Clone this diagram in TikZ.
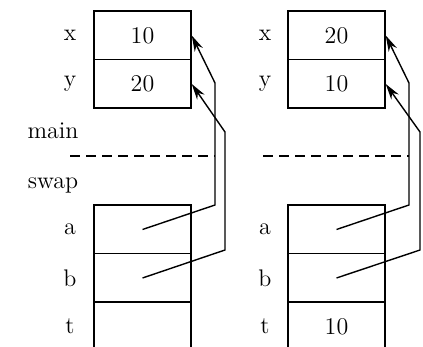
\documentclass[tikz,border=0pt]{standalone}
\usetikzlibrary{arrows.meta}
\tikzset{
  cell/.style={draw,line width=0.75pt,rectangle,minimum width=48.5pt,minimum height=24.25pt,inner sep=0pt,font=\fontsize{12}{14}\selectfont},
  lbl/.style={inner sep=0pt,font=\fontsize{12}{14}\selectfont},
  ptr/.style={line width=0.7pt,-{Stealth[length=8pt,width=4.5pt]}},
  sep/.style={line width=0.7pt,dash pattern=on 5pt off 3pt}
}
\begin{document}
\begin{tikzpicture}[x=0.5pt,y=-0.5pt]
					\useasboundingbox (0,0) rectangle (423,347);
					% before the call
					\node[cell] (lx) at (142.5,35.5) {10};
					\node[cell] (ly) at (142.5,84)   {20};
					\node[cell] (la) at (142.5,229.5) {};
					\node[cell] (lb) at (142.5,278)  {};
					\node[cell] (lt) at (142.5,326.5) {};
					\node[lbl] (lxl) at (70,35.5)  {x};
					\node[lbl] (lyl) at (70,84)    {y};
					\node[lbl] (lal) at (70,229.5) {a};
					\node[lbl] (lbl) at (70,278)   {b};
					\node[lbl] (ltl) at (70,326.5) {t};
					\node[lbl] (main) at (53,131) {main};
					\node[lbl] (swap) at (53,185) {swap};
					%
					% after the call
					\node[cell] (rx) at (336.5,35.5) {20};
					\node[cell] (ry) at (336.5,84)   {10};
					\node[cell] (ra) at (336.5,229.5) {};
					\node[cell] (rb) at (336.5,278)  {};
					\node[cell] (rt) at (336.5,326.5) {10};
					\node[lbl] (rxl) at (265,35.5)  {x};
					\node[lbl] (ryl) at (265,84)    {y};
					\node[lbl] (ral) at (265,229.5) {a};
					\node[lbl] (rbl) at (265,278)   {b};
					\node[lbl] (rtl) at (265,326.5) {t};
					%
					% frame boundary
					\coordinate (ls0) at (70,156);
					\coordinate (ls1) at (215,156);
					\coordinate (rs0) at (263,156);
					\coordinate (rs1) at (409,156);
					\draw[sep] (ls0) -- (ls1);
					\draw[sep] (rs0) -- (rs1);
					%
					% pointer bends
					\coordinate (la1) at (215,205);
					\coordinate (la2) at (215,83);
					\coordinate (lb1) at (225,250);
					\coordinate (lb2) at (225,132);
					\coordinate (ra1) at (409,205);
					\coordinate (ra2) at (409,83);
					\coordinate (rb1) at (420,250);
					\coordinate (rb2) at (420,132);
					%
					\draw[ptr] (la.center) -- (la1) -- (la2) -- (lx.east);
					\draw[ptr] (lb.center) -- (lb1) -- (lb2) -- (ly.east);
					\draw[ptr] (ra.center) -- (ra1) -- (ra2) -- (rx.east);
					\draw[ptr] (rb.center) -- (rb1) -- (rb2) -- (ry.east);
				\end{tikzpicture}
\end{document}
